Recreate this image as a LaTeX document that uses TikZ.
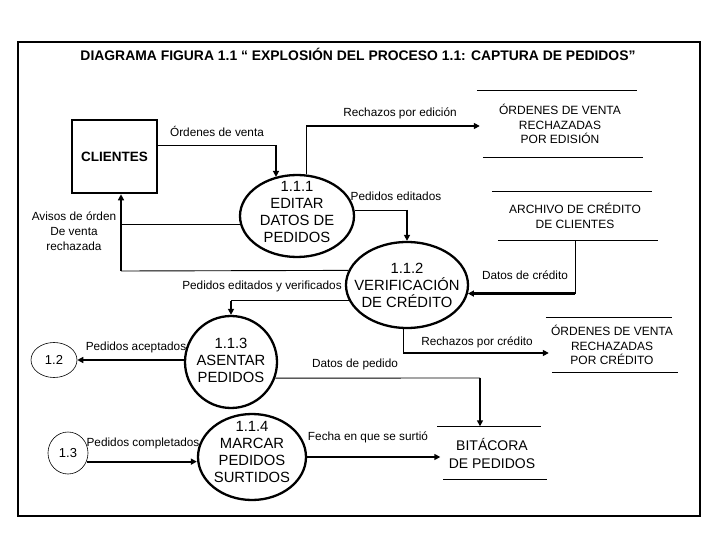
\documentclass[tikz,border=0pt]{standalone}
\usepackage{fontspec}
\setmainfont{Liberation Sans}
\usetikzlibrary{shapes.geometric, arrows.meta}

\begin{document}
\begin{tikzpicture}[x=1pt, y=-1pt,
    proc/.style={ellipse, draw, line width=2.3pt, inner sep=0pt},
    proctxt/.style={align=center, inner sep=0pt, font=\fontsize{14.8}{17}\selectfont},
    ref/.style={ellipse, draw, line width=0.6pt, inner sep=0pt, font=\fontsize{13}{15}\selectfont},
    alm/.style={inner sep=0pt, align=center, font=\fontsize{12}{14.5}\selectfont},
    etq/.style={inner sep=0pt, align=center, font=\fontsize{11.8}{15}\selectfont},
    flujo/.style={line width=0.9pt},
    punta/.style={line width=2.2pt, -{Triangle[length=6pt,width=6pt]}}]
    \useasboundingbox (0,0) rectangle (720,540);
    \draw[line width=1.2pt] (18,42) rectangle (700,516);

    \node[font=\bfseries\fontsize{13.9}{16}\selectfont] (tit) at (358,54)
        {DIAGRAMA FIGURA 1.1 “ EXPLOSIÓN DEL PROCESO 1.1: CAPTURA DE PEDIDOS”};

    % Entidad externa
    \node[draw, line width=2.6pt, minimum width=85pt, minimum height=73pt,
          font=\bfseries\fontsize{13.5}{16}\selectfont] (cli) at (114.5,156.5) {CLIENTES};

    % Procesos
    \node[proc, minimum width=114pt, minimum height=82pt,
          label={[proctxt, yshift=4pt]center:1.1.1\\EDITAR\\DATOS DE\\PEDIDOS}] (p1) at (297,216) {};
    \node[proc, minimum width=122pt, minimum height=86pt,
          label={[proctxt]center:1.1.2\\VERIFICACIÓN\\DE CRÉDITO}] (p2) at (407,285) {};
    \node[proc, minimum width=92pt, minimum height=92pt,
          label={[proctxt, yshift=2pt]center:1.1.3\\ASENTAR\\PEDIDOS}] (p3) at (231,362) {};
    \node[proc, minimum width=108pt, minimum height=86pt,
          label={[proctxt, yshift=5pt]center:1.1.4\\MARCAR\\PEDIDOS\\SURTIDOS}] (p4) at (252,457) {};

    % Otros procesos
    \node[ref, minimum width=46pt, minimum height=35pt] (r12) at (54,360) {1.2};
    \node[ref, minimum width=40pt, minimum height=42pt] (r13) at (68,453) {1.3};

    % Almacenes
    \node[alm, minimum width=160pt, minimum height=66pt] (a1) at (560,124)
        {ÓRDENES DE VENTA\\RECHAZADAS\\POR EDISIÓN};
    \node[alm, minimum width=160pt, minimum height=48pt] (a2) at (575,216)
        {ARCHIVO DE CRÉDITO\\DE CLIENTES};
    \node[alm, minimum width=126pt, minimum height=54pt] (a3) at (612,345)
        {ÓRDENES DE VENTA\\RECHAZADAS\\POR CRÉDITO};
    \node[alm, minimum width=103pt, minimum height=53pt,
          font=\fontsize{14}{18}\selectfont] (a4) at (492,453) {BITÁCORA\\DE PEDIDOS};
    \foreach \a in {a1,a2,a3,a4}
        \draw[flujo] ([xshift=-3pt]\a.north west) -- ([xshift=-3pt]\a.north east)
                     ([xshift=3pt]\a.south west) -- ([xshift=3pt]\a.south east);

    % Puntos de quiebre
    \coordinate (c1) at (276,145);
    \coordinate (c2) at (306,126);
    \coordinate (c4) at (121,271);
    \coordinate (c7) at (403,353);
    \coordinate (c9) at (480,378);

    % Flujos
    \draw[flujo] (cli.east |- c1) -- (c1);
    \draw[punta] (c1) -- (c1 |- p1.119);
    \draw[flujo] (c2 |- p1.78) -- (c2);
    \draw[punta] (c2) -- (c2 -| a1.west);
    \draw[flujo] (p1.6) -- (p1.6 -| p2.north);
    \draw[punta] (p1.6 -| p2.north) -- (p2.north);
    \draw[flujo] (p1.188) -- (p1.188 -| c4);
    \draw[flujo] (p2.166) -- (c4);
    \draw[punta] (c4) -- (c4 |- cli.south);
    \draw[flujo] (p2.195) -- (p2.195 -| p3.north);
    \draw[punta] (p2.195 -| p3.north) -- (p3.north);
    \draw[flujo] (a2.south) -- (a2.south |- p2.-8);
    \draw[punta] (a2.south |- p2.-8) -- (p2.-8);
    \draw[flujo] (c7 |- p2.south) -- (c7);
    \draw[punta] (c7) -- (c7 -| a3.west);
    \draw[punta] (r12.east -| p3.west) -- (r12.east);
    \draw[flujo] (p3.-20) -- (c9);
    \draw[punta] (c9) -- (c9 |- a4.north);
    \draw[punta] (r13.-25) -- (r13.-25 -| p4.west);
    \draw[punta] (p4.east) -- (p4.east -| a4.west);

    % Etiquetas
    \node[etq] (l1) at (217,131) {Órdenes de venta};
    \node[etq] (l2) at (400,113) {Rechazos por edición};
    \node[etq] (l3) at (396,196) {Pedidos editados};
    \node[etq] (l4) at (74,231) {Avisos de órden\\De venta\\rechazada};
    \node[etq] (l5) at (262,286) {Pedidos editados y verificados};
    \node[etq] (l6) at (525,275) {Datos de crédito};
    \node[etq] (l7) at (477,342) {Rechazos por crédito};
    \node[etq] (l8) at (136,347) {Pedidos aceptados};
    \node[etq] (l9) at (355,364) {Datos de pedido};
    \node[etq] (l10) at (143,443) {Pedidos completados};
    \node[etq] (l11) at (368,437) {Fecha en que se surtió};
\end{tikzpicture}
\end{document}
